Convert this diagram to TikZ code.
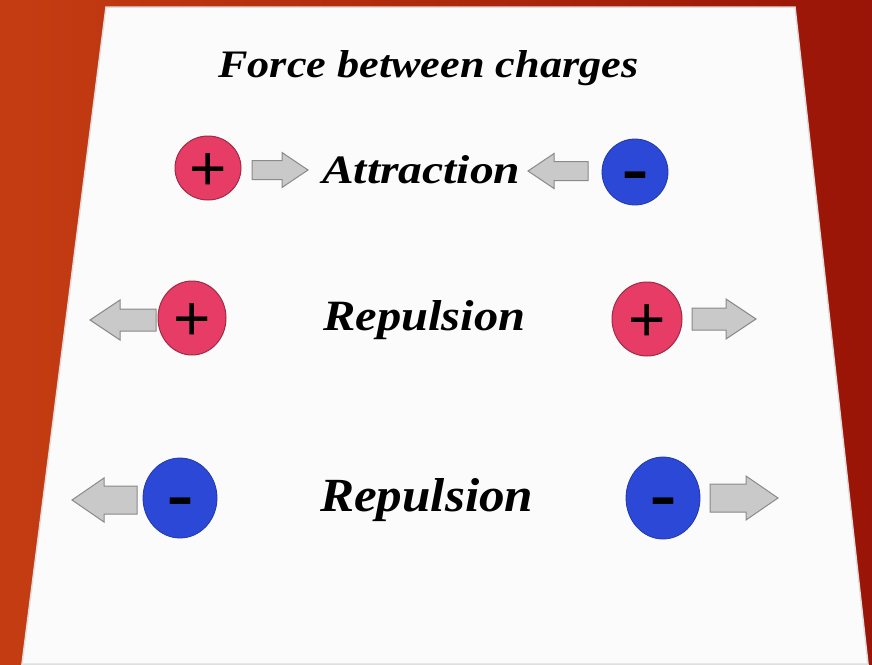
\documentclass[tikz,border=0pt]{standalone}
\usepackage{fontspec}
\usetikzlibrary{shapes.geometric}
\newfontfamily\titlefont{Liberation Serif}
\newfontfamily\signfont{Liberation Sans}
\definecolor{bgleft}{HTML}{C43D12}
\definecolor{bgright}{HTML}{9A1407}
\definecolor{sheet}{HTML}{FBFBFB}
\definecolor{posfill}{HTML}{E63C66}
\definecolor{posdraw}{HTML}{9E2C44}
\definecolor{negfill}{HTML}{2B49D6}
\definecolor{negdraw}{HTML}{2238A8}
\definecolor{arrfill}{HTML}{C9C9C9}
\definecolor{arrdraw}{HTML}{8A8A8A}
\tikzset{
  poscirc/.style={ellipse, draw=posdraw, fill=posfill, line width=1pt, inner sep=0pt},
  negcirc/.style={ellipse, draw=negdraw, fill=negfill, line width=0.8pt, inner sep=0pt},
  plussign/.style={font=\signfont\fontsize{64}{64}\selectfont, inner sep=0pt, text=black, yshift=-3.7pt},
  minussign/.style={font=\signfont\fontsize{84}{84}\selectfont, inner sep=0pt, text=black, yshift=-12.6pt},
  lbl/.style={inner sep=0pt, anchor=base west},
  grayarrow/.style={draw=arrdraw, fill=arrfill, line width=1pt, line join=miter},
}
\newcommand{\blockarr}[6]{\draw[grayarrow] (#1,{#2-#5}) -- ({#3-(#4)},{#2-#5}) -- ({#3-(#4)},{#2-#6}) -- (#3,#2) -- ({#3-(#4)},{#2+#6}) -- ({#3-(#4)},{#2+#5}) -- (#1,{#2+#5}) -- cycle;}
\begin{document}
\begin{tikzpicture}[x=1pt,y=-1pt]
\useasboundingbox (0,0) rectangle (872,664);
\shade[left color=bgleft, right color=bgright] (0,0) rectangle (872,664);
\fill[sheet, draw=gray!25, line width=1.5pt] (106,7) -- (795,7) -- (868,664) -- (22,664) -- cycle;

\node[lbl] (title) at (218,77) {\resizebox{420pt}{27pt}{\titlefont\bfseries\itshape Force between charges}};
\node[lbl] (attr) at (322,183) {\resizebox{198pt}{28pt}{\titlefont\bfseries\itshape Attraction}};
\node[lbl] (rep1) at (323,330) {\resizebox{202pt}{30pt}{\titlefont\bfseries\itshape Repulsion}};
\node[lbl] (rep2) at (320,511) {\resizebox{213pt}{33pt}{\titlefont\bfseries\itshape Repulsion}};

% row 1
\node[poscirc, minimum width=66pt, minimum height=64pt] (p1) at (208,168) {};
\node[plussign] (p1s) at (p1.center) {+};
\node[negcirc, minimum width=66pt, minimum height=66pt] (n1) at (635,172) {};
\node[minussign] (n1s) at (n1.center) {-};
\blockarr{252}{170}{308}{26}{9.5}{17.5}
\blockarr{588}{171}{528}{-26}{9.5}{17.5}

% row 2
\node[poscirc, minimum width=68pt, minimum height=74pt] (p2) at (192,318) {};
\node[plussign] (p2s) at (p2.center) {+};
\node[poscirc, minimum width=70pt, minimum height=74pt] (p3) at (647,319) {};
\node[plussign] (p3s) at (p3.center) {+};
\blockarr{156}{320}{90}{-30}{11}{20}
\blockarr{692}{319}{756}{30}{11}{20}

% row 3
\node[negcirc, minimum width=74pt, minimum height=80pt] (n2) at (180,498) {};
\node[minussign] (n2s) at (n2.center) {-};
\node[negcirc, minimum width=74pt, minimum height=82pt] (n3) at (663,498) {};
\node[minussign] (n3s) at (n3.center) {-};
\blockarr{137}{500}{72}{-32}{14}{22}
\blockarr{710}{498}{778}{32}{14}{22}
\end{tikzpicture}
\end{document}
